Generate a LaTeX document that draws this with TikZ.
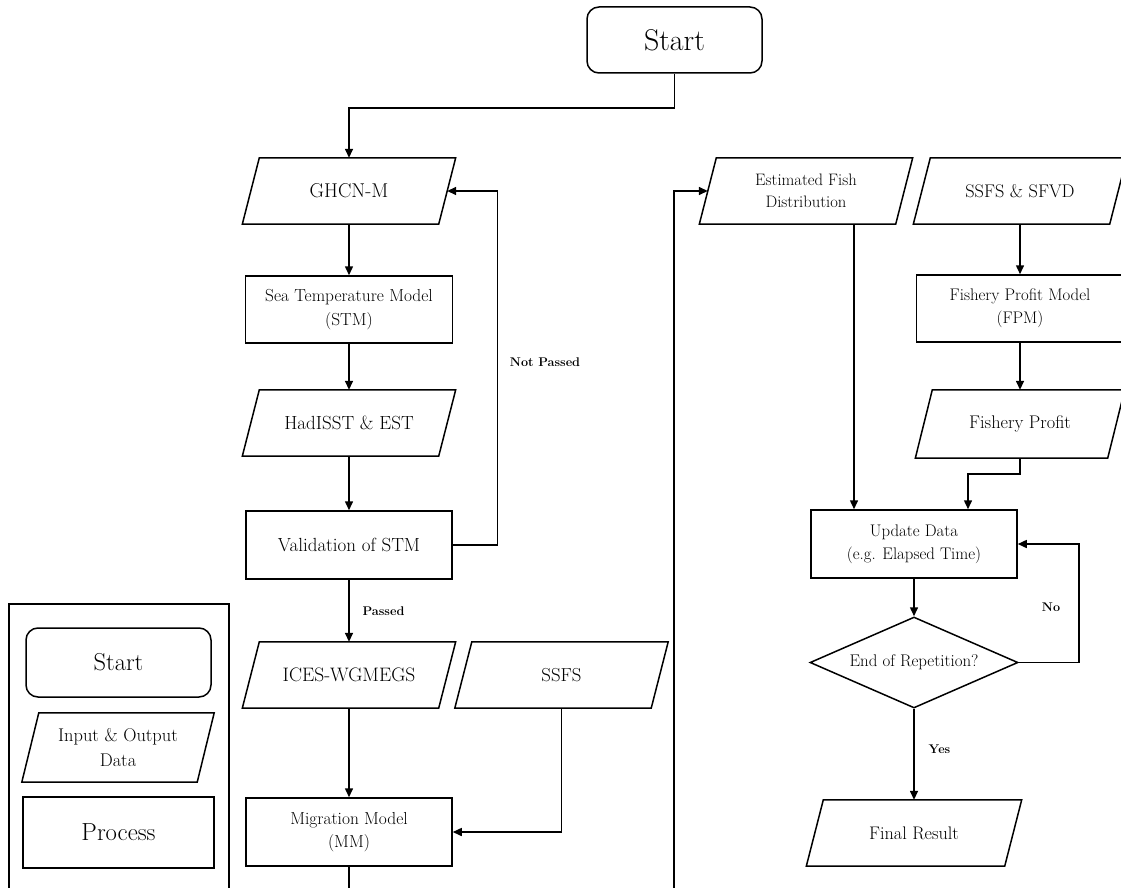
\documentclass[tikz,border=0pt]{standalone}
\usepackage{fontspec}
\usetikzlibrary{arrows.meta,shapes.geometric}
\newcommand{\fsz}[1]{\fontsize{#1}{\dimexpr #1pt*27/20\relax}\selectfont}
\begin{document}
\begin{tikzpicture}[x=1pt,y=-1pt,
  every node/.style={inner sep=0pt, align=center},
  ln/.style={line width=1.5pt},
  arr/.style={ln,-{Triangle[length=9pt,width=8pt]}},
  startbox/.style={draw, line width=1.5pt, rounded corners=12pt},
  procbox/.style={draw, line width=1.5pt},
  io/.style={draw=none, minimum width=#1,
    append after command={\pgfextra{\draw[line width=1.5pt]
      ([xshift=8.5pt]\tikzlastnode.north west) -- ([xshift=8.5pt]\tikzlastnode.north east) --
      ([xshift=-8.5pt]\tikzlastnode.south east) -- ([xshift=-8.5pt]\tikzlastnode.south west) -- cycle;}}},
  io/.default=196pt,
  lbl/.style={font=\fsz{12.6}\bfseries}
]
\useasboundingbox (0,0) rectangle (1121,888);
\fill[white] (0,0) rectangle (1121,888);

% main flow
\node[startbox, minimum width=175pt, minimum height=66pt, font=\fsz{30}] (start) at (674.5,40) {Start};
\node[io, minimum height=66pt, font=\fsz{20}] (ghcn) at (349,191) {GHCN-M};
\node[procbox, minimum width=207pt, minimum height=67pt, font=\fsz{17.4}] (stm) at (349,309.5) {Sea Temperature Model\\(STM)};
\node[io, minimum height=66pt, font=\fsz{19}] (had) at (349,423) {HadISST \& EST};
\node[procbox, minimum width=206pt, minimum height=68pt, font=\fsz{19}] (val) at (349,545) {Validation of STM};
\node[io, minimum height=66pt, font=\fsz{19.5}] (ices) at (349,675) {ICES-WGMEGS};
\node[io, minimum height=66pt, font=\fsz{18.8}] (ssfs) at (561.5,675) {SSFS};
\node[procbox, minimum width=206pt, minimum height=68pt, font=\fsz{17.4}] (mm) at (349,832) {Migration Model\\(MM)};

\node[io, minimum height=66pt, font=\fsz{16.6}] (efd) at (806,191) {Estimated Fish\\Distribution};
\node[io, minimum height=66pt, font=\fsz{18.3}] (ssfd) at (1020,191) {SSFS \& SFVD};
\node[procbox, minimum width=207pt, minimum height=67pt, font=\fsz{16.8}] (fpm) at (1020,308.5) {Fishery Profit Model\\(FPM)};
\node[io=192pt, minimum height=68pt, font=\fsz{18.3}] (fp) at (1020,424) {Fishery Profit};
\node[procbox, minimum width=206pt, minimum height=68pt, font=\fsz{16.8}] (upd) at (914,544) {Update Data\\(e.g. Elapsed Time)};
\node[draw, diamond, aspect=2.3, line width=1.5pt, minimum width=208pt, minimum height=91pt, font=\fsz{16.9}] (dec) at (914,662.5) {End of Repetition?};
\node[io=198pt, minimum height=66pt, font=\fsz{18.2}] (fin) at (914,833) {Final Result};

% legend
\draw[line width=1.2pt] (9,604) rectangle (229,900);
\node[startbox, minimum width=185pt, minimum height=69pt, font=\fsz{24.5}] (lstart) at (118.5,662.5) {Start};
\node[io=175pt, minimum height=69pt, font=\fsz{18.4}] (lio) at (118,747.5) {Input \& Output\\Data};
\node[procbox, minimum width=191pt, minimum height=71pt, font=\fsz{24.7}] (lproc) at (118.5,832.5) {Process};

% connectors
\coordinate (sbend) at (674.5,108);
\draw[arr] (start.south) -- (sbend) -| (ghcn.north);
\draw[arr] (ghcn.south) -- (stm.north);
\draw[arr] (stm.south) -- (had.north);
\draw[arr] (had.south) -- (val.north);
\draw[arr] (val.south) -- node[lbl, pos=0.5, xshift=34.5pt] (passed) {Passed} (ices.north);
\coordinate (fbx) at (497.5,545);
\draw[arr] (val.east) -- (fbx) |- (ghcn.east);
\node[lbl] (notpassed) at (545,362) {Not Passed};
\draw[arr] (ices.south) -- (mm.north);
\draw[arr] (ssfs.south) |- (mm.east);
\coordinate (mmend) at (349,900);
\draw[ln] (mm.south) -- (mmend);
\coordinate (loopbot) at (674,900);
\draw[arr] (loopbot) |- (efd.west);

\coordinate (updin1) at ([xshift=-60pt]upd.north);
\coordinate (updin2) at ([xshift=54pt]upd.north);
\draw[arr] (efd.south -| updin1) -- (updin1);
\draw[arr] (ssfd.south) -- (fpm.north);
\draw[arr] (fpm.south) -- (fp.north);
\coordinate (fpbend) at (1020,474);
\draw[arr] (fp.south) -- (fpbend) -| (updin2);
\draw[arr] (upd.south) -- (dec.north);
\coordinate (nox) at (1079,662.5);
\draw[arr] (dec.east) -- (nox) |- (upd.east);
\node[lbl] (no) at (1051,607) {No};
\draw[arr] (dec.south) -- (fin.north);
\node[lbl] (yes) at (939.5,749) {Yes};
\end{tikzpicture}
\end{document}
